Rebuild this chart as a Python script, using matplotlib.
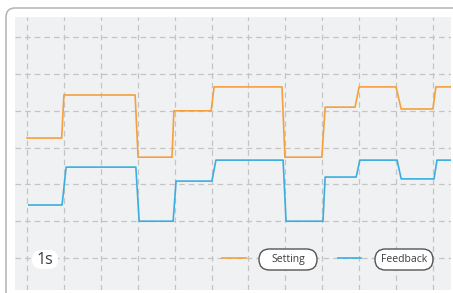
import matplotlib
matplotlib.use("Agg")
import matplotlib.pyplot as plt
from matplotlib.patches import FancyBboxPatch
from matplotlib.lines import Line2D

# step signals, x in seconds (one grid cell = 1 s)
setting_t = [0.0, 0.94, 1.0, 2.93, 3.01, 3.93, 3.98, 4.99, 5.07, 6.91,
             6.99, 7.99, 8.08, 8.89, 9.0, 10.0, 10.14, 11.0, 11.08, 11.5]
setting_v = [3.26, 3.26, 4.43, 4.43, 2.74, 2.74, 4.0, 4.0, 4.65, 4.65,
             2.74, 2.74, 4.1, 4.1, 4.65, 4.65, 4.05, 4.05, 4.65, 4.65]

feedback_t = [0.05, 0.95, 1.06, 2.95, 3.04, 3.96, 4.04, 5.01, 5.12, 6.94,
              7.02, 8.02, 8.08, 8.92, 9.02, 10.03, 10.14, 11.03, 11.11, 11.5]
feedback_v = [1.44, 1.44, 2.47, 2.47, 1.0, 1.0, 2.09, 2.09, 2.66, 2.66,
              1.0, 1.0, 2.2, 2.2, 2.66, 2.66, 2.15, 2.15, 2.66, 2.66]

labels = ["Setting", "Feedback"]
time_label = "1s"

orange = "#f5a03c"
blue = "#3aaee0"
text_col = "#3c3c3c"

plt.rcParams['font.family'] = ['Open Sans', 'DejaVu Sans']

fig = plt.figure(figsize=(4.53, 2.93), dpi=100)
W, H = 453, 293

# outer rounded frame (cut off at right and bottom)
frame = FancyBboxPatch((0.06, -0.3), 4.8, 2.85 + 0.3,
                       boxstyle="round,pad=0,rounding_size=0.09",
                       transform=fig.dpi_scale_trans, facecolor="white",
                       edgecolor="#b3b3b3", linewidth=1.1, zorder=-5)
fig.patches.append(frame)

ax = fig.add_axes([15 / W, 3 / H, 436 / W, 273 / H])
ax.set_zorder(1)
ax.set_facecolor("#f0f1f3")
ax.set_xlim(-0.325, 11.49)
ax.set_ylim(-0.87, 6.55)
ax.set_xticks(range(12))
ax.set_yticks(range(7))
ax.tick_params(length=0, labelbottom=False, labelleft=False)
for s in ax.spines.values():
    s.set_visible(False)
ax.grid(True, color="#c4c4c4", linewidth=0.9, linestyle=(0, (4.5, 3.2)))
ax.set_axisbelow(True)

ax.plot(setting_t, setting_v, color=orange, linewidth=1.2, zorder=3)
ax.plot(feedback_t, feedback_v, color=blue, linewidth=1.2, zorder=3)

# legend and time scale label, drawn in inches on top of the axes
def pill(x0, x1, y0, y1, edge):
    p = FancyBboxPatch((x0 / 100, (H - y1) / 100), (x1 - x0) / 100, (y1 - y0) / 100,
                       boxstyle="round,pad=0,rounding_size=%f" % ((y1 - y0) / 200),
                       transform=fig.dpi_scale_trans, facecolor="white",
                       edgecolor=edge if edge else "none", linewidth=1.0, zorder=5)
    fig.patches.append(p)

pill(32, 58, 250, 269, None)
fig.text(45 / W, 1 - 259.5 / H, time_label, ha="center", va="center",
         fontsize=11.5, color=text_col, zorder=6)

fig.lines.append(Line2D([222 / W, 246 / W], [1 - 258 / H, 1 - 258 / H],
                        transform=fig.transFigure, color=orange, linewidth=1.2, zorder=5))
pill(259, 317, 249, 270, "#555555")
fig.text(288 / W, 1 - 259.5 / H, labels[0], ha="center", va="center",
         fontsize=7.5, color=text_col, zorder=6)

fig.lines.append(Line2D([338 / W, 361 / W], [1 - 258 / H, 1 - 258 / H],
                        transform=fig.transFigure, color=blue, linewidth=1.2, zorder=5))
pill(375, 433, 249, 270, "#555555")
fig.text(404 / W, 1 - 259.5 / H, labels[1], ha="center", va="center",
         fontsize=7.5, color=text_col, zorder=6)

fig.savefig("out.png", dpi=100)
